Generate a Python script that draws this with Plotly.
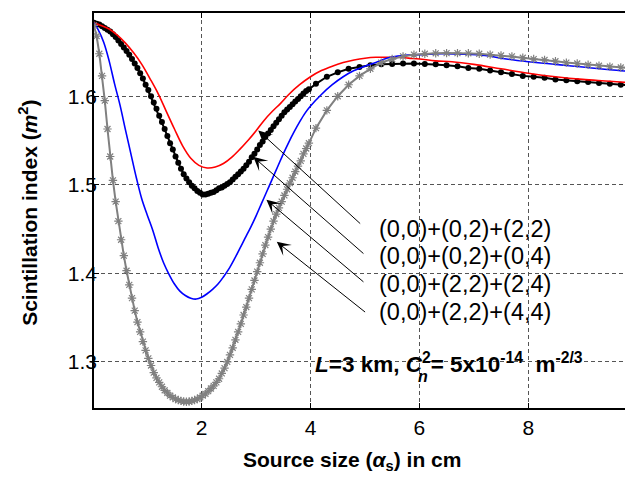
import plotly.graph_objects as go

# ---------------- data ----------------
x_fine = [0.02, 0.07, 0.12, 0.17, 0.22, 0.27, 0.32, 0.37, 0.42, 0.47,
          0.52, 0.57, 0.62, 0.67, 0.72, 0.77, 0.82, 0.87, 0.92, 0.97,
          1.02, 1.07, 1.12, 1.17, 1.22, 1.27, 1.32, 1.37, 1.42, 1.47,
          1.52, 1.57, 1.62, 1.67, 1.72, 1.77, 1.82, 1.87, 1.92, 1.97,
          2.02, 2.07, 2.12, 2.17, 2.22, 2.27, 2.32, 2.37, 2.42, 2.47,
          2.52, 2.57, 2.62, 2.67, 2.72, 2.77, 2.82, 2.87, 2.92, 2.97,
          3.02, 3.07, 3.12, 3.17, 3.22, 3.27, 3.32, 3.37, 3.42, 3.47,
          3.52, 3.57, 3.62, 3.67, 3.72, 3.77, 3.82, 3.87, 3.92, 3.97]
x_coarse = [4.1, 4.3, 4.5, 4.7, 4.9, 5.1, 5.3, 5.5, 5.7, 5.9,
            6.1, 6.3, 6.5, 6.7, 6.9, 7.1, 7.3, 7.5, 7.7, 7.9,
            8.1, 8.3, 8.5, 8.7, 8.9, 9.1, 9.3, 9.5, 9.7, 9.9]

# (0,0)+(0,2)+(0,4)  -- black with dots
y_black = [1.683, 1.682, 1.681, 1.679, 1.677, 1.675, 1.673, 1.670, 1.667, 1.663,
           1.659, 1.655, 1.651, 1.647, 1.642, 1.637, 1.632, 1.626, 1.620, 1.613,
           1.607, 1.600, 1.593, 1.586, 1.578, 1.571, 1.563, 1.555, 1.547, 1.540,
           1.532, 1.525, 1.518, 1.512, 1.507, 1.503, 1.499, 1.496, 1.493, 1.491,
           1.489, 1.489, 1.490, 1.491, 1.492, 1.494, 1.496, 1.497, 1.499, 1.501,
           1.503, 1.506, 1.509, 1.512, 1.515, 1.518, 1.522, 1.526, 1.531, 1.535,
           1.540, 1.545, 1.549, 1.554, 1.558, 1.562, 1.566, 1.570, 1.574, 1.578,
           1.582, 1.585, 1.588, 1.591, 1.594, 1.597, 1.600, 1.603, 1.606, 1.608,
           1.614, 1.622, 1.627, 1.631, 1.633, 1.635, 1.636, 1.6365, 1.637, 1.637,
           1.6365, 1.636, 1.635, 1.634, 1.632, 1.631, 1.629, 1.627, 1.625, 1.623,
           1.622, 1.621, 1.619, 1.618, 1.617, 1.616, 1.615, 1.614, 1.613, 1.612]

# (0,0)+(2,2)+(4,4)  -- gray with asterisks
y_gray = [1.680, 1.668, 1.648, 1.623, 1.595, 1.563, 1.532, 1.505, 1.481, 1.459,
          1.438, 1.420, 1.403, 1.387, 1.372, 1.358, 1.345, 1.334, 1.323, 1.313,
          1.304, 1.296, 1.288, 1.282, 1.277, 1.272, 1.268, 1.265, 1.262, 1.260,
          1.258, 1.257, 1.256, 1.2553, 1.255, 1.2553, 1.256, 1.257, 1.258, 1.260,
          1.262, 1.264, 1.267, 1.270, 1.273, 1.277, 1.281, 1.287, 1.293, 1.300,
          1.308, 1.316, 1.325, 1.334, 1.343, 1.353, 1.362, 1.372, 1.382, 1.392,
          1.402, 1.412, 1.422, 1.432, 1.441, 1.450, 1.459, 1.467, 1.474, 1.481,
          1.488, 1.495, 1.502, 1.508, 1.515, 1.521, 1.527, 1.535, 1.541, 1.547,
          1.564, 1.584, 1.600, 1.613, 1.623, 1.631, 1.638, 1.642, 1.645, 1.647,
          1.648, 1.6485, 1.6487, 1.6487, 1.6485, 1.648, 1.647, 1.646, 1.645, 1.6435,
          1.642, 1.641, 1.6395, 1.638, 1.637, 1.6355, 1.6345, 1.6335, 1.6325, 1.6315]

# (0,0)+(0,2)+(2,2)  -- red line
x_red = [0.02, 0.15, 0.3, 0.45, 0.6, 0.75, 0.9, 1.05, 1.2, 1.35, 1.5, 1.65, 1.8,
         1.95, 2.1, 2.25, 2.4, 2.55, 2.7, 2.85, 3.0, 3.15, 3.3, 3.45, 3.6, 3.8,
         4.0, 4.2, 4.4, 4.6, 4.8, 5.0, 5.2, 5.4, 5.6, 5.8, 6.0, 6.3, 6.6, 7.0,
         7.5, 8.0, 8.5, 9.0, 9.5, 9.9]
y_red = [1.683, 1.680, 1.676, 1.669, 1.660, 1.649, 1.636, 1.620, 1.603, 1.583,
         1.563, 1.544, 1.530, 1.522, 1.519, 1.520, 1.524, 1.531, 1.540, 1.550,
         1.561, 1.573, 1.583, 1.592, 1.602, 1.613, 1.622, 1.629, 1.634, 1.638,
         1.641, 1.643, 1.644, 1.644, 1.644, 1.643, 1.642, 1.640, 1.639, 1.636,
         1.631, 1.626, 1.622, 1.619, 1.617, 1.615]

# (0,0)+(2,2)+(2,4)  -- blue line
x_blue = [0.02, 0.1, 0.2, 0.3, 0.4, 0.5, 0.6, 0.7, 0.8, 0.9, 1.0, 1.1, 1.2, 1.3,
          1.4, 1.5, 1.6, 1.7, 1.8, 1.9, 2.0, 2.1, 2.2, 2.3, 2.4, 2.5, 2.6, 2.7,
          2.8, 2.9, 3.0, 3.1, 3.2, 3.3, 3.4, 3.5, 3.6, 3.7, 3.8, 3.9, 4.0, 4.2,
          4.4, 4.6, 4.8, 5.0, 5.2, 5.4, 5.7, 6.0, 6.4, 6.8, 7.2, 7.6, 8.0, 8.5,
          9.0, 9.5, 9.9]
y_blue = [1.683, 1.675, 1.661, 1.640, 1.614, 1.590, 1.562, 1.535, 1.508, 1.484,
          1.466, 1.449, 1.429, 1.412, 1.399, 1.388, 1.380, 1.375, 1.372, 1.371,
          1.373, 1.377, 1.382, 1.388, 1.396, 1.405, 1.416, 1.428, 1.440, 1.452,
          1.465, 1.479, 1.493, 1.507, 1.521, 1.535, 1.548, 1.560, 1.571, 1.581,
          1.589, 1.602, 1.613, 1.622, 1.629, 1.634, 1.638, 1.643, 1.646, 1.647,
          1.648, 1.6475, 1.646, 1.642, 1.639, 1.636, 1.633, 1.630, 1.628]

labels = ["(0,0)+(0,2)+(2,2)", "(0,0)+(0,2)+(0,4)",
          "(0,0)+(2,2)+(2,4)", "(0,0)+(2,2)+(4,4)"]
x_ticks = [2, 4, 6, 8]
y_ticks = [1.3, 1.4, 1.5, 1.6]

x_marked = x_fine + x_coarse

# ---------------- figure ----------------
FONT = "Liberation Sans, Arial, sans-serif"
fig = go.Figure()

fig.add_trace(go.Scatter(x=x_marked, y=y_black, mode="lines+markers",
                         line=dict(color="black", width=2),
                         marker=dict(symbol="circle", size=6, color="black"),
                         name=labels[1]))
fig.add_trace(go.Scatter(x=x_red, y=y_red, mode="lines", line_shape="spline",
                         line=dict(color="#ff0000", width=1.6), name=labels[0]))
fig.add_trace(go.Scatter(x=x_blue, y=y_blue, mode="lines", line_shape="spline",
                         line=dict(color="#0000ff", width=1.6), name=labels[2]))
fig.add_trace(go.Scatter(x=x_marked, y=y_gray, mode="lines+markers",
                         line=dict(color="#808080", width=2),
                         marker=dict(symbol="asterisk-open", size=7,
                                     line=dict(color="#808080", width=1.2)),
                         name=labels[3]))

# legend-like labels with arrows
label_pos = [(5.23, 1.4500), (5.23, 1.4194), (5.23, 1.3880), (5.23, 1.3565)]
arrow_tip = [(3.04, 1.5614), (2.95, 1.5315), (3.19, 1.4830), (3.38, 1.4356)]
arrow_tail = [(4.94, 1.4547), (5.00, 1.4209), (5.00, 1.3890), (5.03, 1.3550)]

annotations = []
for lab, (lx, ly) in zip(labels, label_pos):
    annotations.append(dict(x=lx, y=ly, xref="x", yref="y", text=lab,
                            showarrow=False, xanchor="left", yanchor="middle",
                            font=dict(family=FONT, size=23.5, color="black")))
for (tx, ty), (ax_, ay_) in zip(arrow_tip, arrow_tail):
    annotations.append(dict(x=tx, y=ty, xref="x", yref="y", ax=ax_, ay=ay_,
                            axref="x", ayref="y", text="", showarrow=True,
                            arrowhead=3, arrowsize=2.3, arrowwidth=1,
                            arrowcolor="black"))

# condition annotation (C with stacked subscript n and superscript 2)
annotations.append(dict(
    x=4.045, y=1.299, xref="x", yref="y", xanchor="left", yanchor="middle",
    showarrow=False,
    text="<b><i>L</i>=3 km, <i>C</i><sup>2</sup>= 5x10<sup>-14</sup>  m<sup>-2/3</sup></b>",
    font=dict(family=FONT, size=22.5, color="black")))
annotations.append(dict(
    x=6.06, y=1.2835, xref="x", yref="y", xanchor="center", yanchor="middle",
    showarrow=False, text="<b><i>n</i></b>",
    font=dict(family=FONT, size=16, color="black")))

# axis titles
annotations.append(dict(
    x=0.48, y=-0.135, xref="paper", yref="paper", xanchor="center", yanchor="middle",
    showarrow=False,
    text="<b>Source size (<i>α</i><sub>s</sub>) in cm</b>",
    font=dict(family=FONT, size=21, color="black")))
annotations.append(dict(
    x=0, y=0.494, xref="paper", yref="paper", xanchor="center", yanchor="middle",
    xshift=-66, textangle=-90, showarrow=False,
    text="<b>Scintillation index (<i>m</i><sup>2</sup>)</b>",
    font=dict(family=FONT, size=21, color="black")))

axis_common = dict(showline=True, linecolor="black", linewidth=1.5, mirror="ticks",
                   ticks="inside", ticklen=5, tickcolor="black", tickwidth=1,
                   showgrid=True, gridcolor="#555555", gridwidth=1,
                   griddash="4px,3px", zeroline=False, automargin=False,
                   tickfont=dict(family=FONT, size=21, color="black"))

# the page body adds an 8 px offset, so the figure is sized 8 px smaller
fig.update_layout(
    template="none",
    width=625, height=470,
    margin=dict(l=86, r=2, t=5, b=70, autoexpand=False),
    paper_bgcolor="white", plot_bgcolor="white",
    showlegend=False,
    annotations=annotations,
    xaxis=dict(range=[0.022, 9.888], tickvals=x_ticks,
               ticktext=[str(v) for v in x_ticks], **axis_common),
    yaxis=dict(range=[1.248, 1.694], tickvals=y_ticks, ticklabelstandoff=-9,
               ticktext=[f"{v:.1f}" for v in y_ticks], **axis_common),
)

fig.write_html("out.html")
